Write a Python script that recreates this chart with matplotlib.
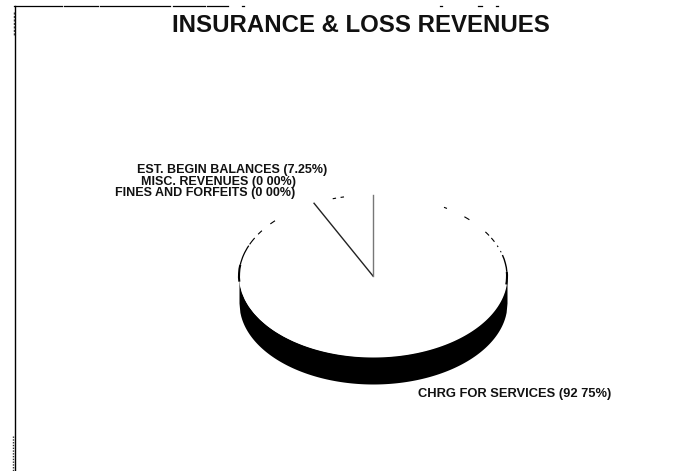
import numpy as np
import matplotlib
matplotlib.use('Agg')
import matplotlib.pyplot as plt
from matplotlib.patches import Arc

title = 'INSURANCE & LOSS REVENUES'
categories = ['CHRG FOR SERVICES', 'EST. BEGIN BALANCES', 'MISC. REVENUES', 'FINES AND FORFEITS']
shares = [92.75, 7.25, 0.00, 0.00]
share_text = ['92 75', '7.25', '0 00', '0 00']

W, H = 683, 471
plt.rcParams['font.family'] = ['Liberation Sans', 'DejaVu Sans']

fig = plt.figure(figsize=(W / 100, H / 100), dpi=100, facecolor='white')

# page axes in pixels, for the frame and the text
page = fig.add_axes([0, 0, 1, 1])
page.set_xlim(0, W)
page.set_ylim(H, 0)
page.axis('off')
page.set_zorder(2)

# frame, broken up by the scan
page.plot([14.5, 14.5], [5.5, 471], color='black', lw=1)
page.plot([13, 13], [436, 471], color='#333333', lw=1, ls=(0, (1, 1)))
page.plot([13.5, 13.5], [12, 36], color='#333333', lw=1, ls=(0, (1.5, 1)))
for x0, x1 in [(14, 62), (64, 98), (100, 170), (173, 205), (207, 228), (242, 244),
               (440, 442), (478, 482), (496, 498)]:
    page.plot([x0, x1], [5.5, 5.5], color='black', lw=0.9)

page.text(360.5, 26, title, ha='center', va='center', fontsize=17.3, fontweight='bold', color='#111111')

# pie axes: one unit is the radius of the ellipse
cx, cy, rx, ry, depth = 373, 276, 134, 81, 27
pie_ax = fig.add_axes([(cx - 1.25 * rx) / W, 1 - (cy + 1.6 * ry) / H, 2.5 * rx / W, 3.2 * ry / H])
pie_ax.set_zorder(1)
pie_ax.patch.set_alpha(0)
wedges, _ = pie_ax.pie(shares, startangle=90, counterclock=False, radius=1,
                       colors=['white', 'white', 'white', 'white'],
                       wedgeprops={'edgecolor': 'none'})
pie_ax.set_aspect('auto')
pie_ax.set_xlim(-1.25, 1.25)
pie_ax.set_ylim(-1.6, 1.6)
pie_ax.axis('off')

# dark side of the disc
xs = np.linspace(-1, 1, 300)
rim = -np.sqrt(1 - xs ** 2)
pie_ax.fill_between(xs, rim, rim - depth / ry, color='black', lw=0, zorder=0)

# broken outline left over from the scan
for a0, a1, lw in [(102.5, 104, 0.8), (106, 107.5, 0.8), (137, 140, 0.8), (146, 149, 0.8),
                   (152, 157, 0.8), (158, 172, 0.9), (172, 184, 1.5),
                   (56.5, 58, 0.8), (44, 47, 0.8), (30, 33, 0.8), (25, 28, 0.8),
                   (21, 22, 0.8), (17, 18, 0.7), (3, 15, 1.0), (-6, 3, 1.5)]:
    pie_ax.add_patch(Arc((0, 0), 2, 2, theta1=a0, theta2=a1, color='black', lw=lw, zorder=3))

# slice edges, from the centre to the rim
angle = np.pi / 2
begin_angle = angle + 2 * np.pi * shares[1] / 100
pie_ax.plot([0, np.cos(begin_angle)], [0, np.sin(begin_angle)], color='#222222', lw=1, zorder=3)
pie_ax.plot([0, np.cos(angle)], [0, np.sin(angle)], color='#777777', lw=1, zorder=3)

label_style = dict(va='center', fontsize=9, color='#111111', fontweight='bold')
page.text(232, 170.5, f'{categories[1]} ({share_text[1]}%)', ha='center', **label_style)
page.text(218.5, 181.5, f'{categories[2]} ({share_text[2]}%)', ha='center', **label_style)
page.text(205, 193, f'{categories[3]} ({share_text[3]}%)', ha='center', **label_style)
page.text(417.5, 393.5, f'{categories[0]} ({share_text[0]}%)', ha='left', va='center',
          fontsize=9.3, color='#111111', fontweight='bold')

fig.savefig('out.png', dpi=100)
